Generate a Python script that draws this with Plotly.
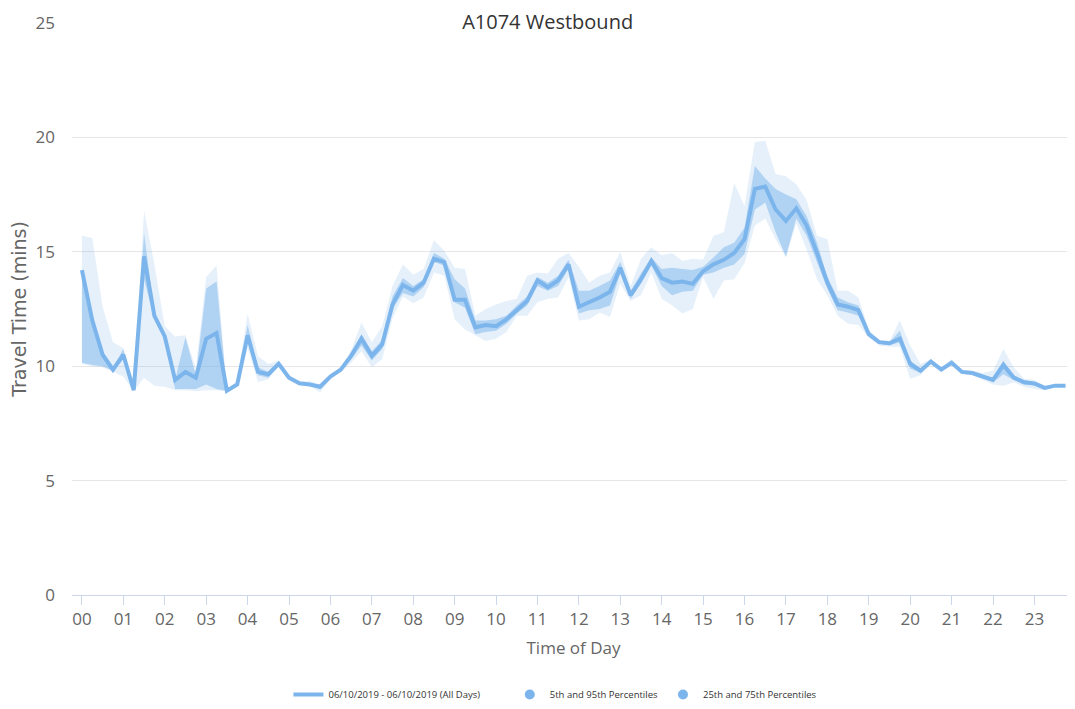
import plotly.graph_objects as go

hours = [i * 0.25 for i in range(96)]
tick_labels = ["%02d" % h for h in range(24)]

median = [14.2, 12.0, 10.5, 9.85, 10.5, 8.95, 14.8, 12.2, 11.3, 9.4, 9.75, 9.5, 11.2, 11.45, 8.93, 9.2,
          11.35, 9.75, 9.65, 10.1, 9.5, 9.25, 9.2, 9.1, 9.55, 9.85, 10.45, 11.2, 10.45, 10.95, 12.7, 13.55,
          13.3, 13.65, 14.7, 14.55, 12.9, 12.9, 11.7, 11.8, 11.75, 12.05, 12.45, 12.85, 13.75, 13.45, 13.75, 14.45,
          12.6, 12.8, 13.0, 13.25, 14.3, 13.1, 13.8, 14.6, 13.85, 13.65, 13.7, 13.6, 14.15, 14.45, 14.65, 14.95,
          15.55, 17.75, 17.85, 16.85, 16.35, 16.9, 16.15, 14.95, 13.65, 12.7, 12.6, 12.45, 11.4, 11.05, 11.0, 11.2,
          10.1, 9.8, 10.2, 9.85, 10.15, 9.75, 9.7, 9.55, 9.4, 10.05, 9.5, 9.3, 9.25, 9.05, 9.15, 9.15]
p5 = [10.1, 10.0, 9.95, 9.75, 9.55, 8.9, 9.5, 9.15, 9.1, 8.95, 8.95, 8.9, 8.95, 8.95, 8.9, 9.15,
      10.8, 9.3, 9.43, 10.0, 9.4, 9.18, 9.15, 8.85, 9.45, 9.72, 10.15, 10.65, 9.95, 10.3, 12.1, 13.05,
      12.75, 13.0, 14.1, 13.95, 12.05, 11.6, 11.35, 11.1, 11.2, 11.5, 12.2, 12.2, 12.8, 12.95, 13.0, 13.9,
      12.0, 12.05, 12.35, 12.15, 13.6, 12.85, 13.1, 14.1, 12.95, 12.65, 12.3, 12.5, 13.9, 12.95, 13.75, 13.8,
      14.5, 16.15, 16.45, 15.55, 14.75, 16.25, 15.1, 13.8, 13.1, 12.2, 11.85, 11.8, 11.25, 10.9, 10.85, 10.85,
      9.45, 9.6, 10.1, 9.75, 10.05, 9.65, 9.6, 9.4, 9.2, 9.15, 9.3, 9.1, 9.0, 8.95, 9.1, 9.1]
p25 = [10.15, 10.05, 10.0, 9.8, 10.3, 8.92, 13.8, 12.05, 11.2, 9.0, 9.0, 9.0, 9.2, 9.0, 8.92, 9.18,
       11.1, 9.6, 9.5, 10.05, 9.45, 9.2, 9.17, 9.0, 9.5, 9.8, 10.3, 10.9, 10.25, 10.75, 12.5, 13.2,
       13.05, 13.45, 14.55, 14.4, 12.8, 12.55, 11.4, 11.5, 11.55, 11.85, 12.3, 12.65, 13.5, 13.3, 13.5, 14.25,
       12.3, 12.45, 12.5, 12.65, 14.05, 12.95, 13.6, 14.4, 13.5, 13.1, 13.25, 13.3, 14.0, 14.1, 14.3, 14.45,
       14.9, 16.85, 17.15, 15.85, 14.8, 16.45, 15.7, 14.55, 13.4, 12.45, 12.35, 12.2, 11.35, 10.98, 10.92, 11.05,
       9.9, 9.7, 10.15, 9.8, 10.1, 9.7, 9.65, 9.5, 9.3, 9.65, 9.4, 9.2, 9.15, 9.0, 9.12, 9.12]
p75 = [14.2, 12.0, 10.5, 9.9, 10.75, 8.97, 15.8, 12.35, 11.45, 9.4, 11.25, 9.6, 13.4, 13.7, 8.95, 9.25,
       11.8, 9.95, 9.75, 10.15, 9.55, 9.28, 9.25, 9.15, 9.6, 9.9, 10.55, 11.4, 10.65, 11.15, 13.05, 13.85,
       13.5, 13.8, 14.95, 14.7, 13.8, 13.4, 12.0, 12.0, 12.05, 12.2, 12.65, 13.05, 13.9, 13.65, 13.95, 14.65,
       13.3, 13.3, 13.5, 13.75, 14.55, 13.3, 14.05, 14.75, 14.25, 14.3, 14.25, 14.2, 14.35, 14.75, 15.2, 15.4,
       16.05, 18.75, 18.2, 17.75, 17.5, 17.3, 16.55, 15.4, 13.9, 13.0, 12.8, 12.65, 11.5, 11.1, 11.05, 11.55,
       10.25, 9.9, 10.25, 9.9, 10.2, 9.8, 9.75, 9.6, 9.5, 10.25, 9.6, 9.4, 9.3, 9.1, 9.18, 9.18]
p95 = [15.7, 15.6, 12.6, 11.05, 10.8, 9.0, 16.8, 14.45, 11.75, 11.3, 11.35, 9.9, 13.9, 14.4, 8.97, 9.35,
       12.3, 10.45, 10.1, 10.25, 9.6, 9.3, 9.35, 9.2, 9.65, 9.95, 10.7, 11.9, 11.05, 11.75, 13.5, 14.45,
       14.0, 14.25, 15.5, 15.05, 14.3, 14.25, 12.2, 12.5, 12.7, 12.85, 12.95, 13.95, 14.1, 14.05, 14.7, 14.95,
       14.35, 13.65, 13.95, 14.1, 15.0, 13.5, 14.7, 15.2, 14.85, 14.95, 14.6, 14.7, 14.65, 15.7, 15.85, 18.0,
       17.0, 19.8, 19.85, 18.4, 18.3, 17.95, 17.25, 15.7, 15.55, 13.3, 13.3, 13.0, 11.6, 11.15, 11.1, 12.0,
       10.9, 10.1, 10.3, 9.95, 10.3, 9.85, 9.8, 9.7, 9.8, 10.75, 9.95, 9.45, 9.4, 9.12, 9.2, 9.2]

series_names = ["06/10/2019 - 06/10/2019 (All Days)", "5th and 95th Percentiles", "25th and 75th Percentiles"]

base = "#7cb5ec"
pad = "\u00a0" * 10
fig = go.Figure()
fig.add_trace(go.Scatter(x=hours, y=p5, mode="lines", line=dict(width=0), showlegend=False, hoverinfo="skip"))
fig.add_trace(go.Scatter(x=hours, y=p95, mode="lines", line=dict(width=0), fill="tonexty",
                         fillcolor="rgba(124,181,236,0.2)", showlegend=False, hoverinfo="skip"))
fig.add_trace(go.Scatter(x=hours, y=p25, mode="lines", line=dict(width=0), showlegend=False, hoverinfo="skip"))
fig.add_trace(go.Scatter(x=hours, y=p75, mode="lines", line=dict(width=0), fill="tonexty",
                         fillcolor="rgba(124,181,236,0.5)", showlegend=False, hoverinfo="skip"))
fig.add_trace(go.Scatter(x=hours, y=median, mode="lines", line=dict(color=base, width=4),
                         name=series_names[0] + pad))
fig.add_trace(go.Scatter(x=[None], y=[None], mode="markers", marker=dict(color=base, size=10, symbol="circle"),
                         name=series_names[1]))
fig.add_trace(go.Scatter(x=[None], y=[None], mode="markers", marker=dict(color=base, size=10, symbol="circle"),
                         name=series_names[2]))

fig.update_layout(
    width=1075, height=709,
    margin=dict(l=64, r=8, t=15, b=120),
    paper_bgcolor="white", plot_bgcolor="white",
    font=dict(family="Open Sans, sans-serif", color="#666666"),
    title=dict(text="A1074 Westbound", x=0.502, xanchor="center", y=0.980, yanchor="middle",
               xref="container", yref="container",
               font=dict(size=20, color="#333333")),
    xaxis=dict(range=[-0.24, 23.98], tickmode="array", tickvals=list(range(24)), ticktext=tick_labels,
               showgrid=False, zeroline=False, showline=True, linecolor="#ccd6eb", linewidth=1,
               ticks="outside", ticklen=9, tickcolor="#ccd6eb", tickfont=dict(size=17, color="#666666"),
               automargin=False,
               title=dict(text="Time of Day", font=dict(size=17, color="#666666"), standoff=12)),
    yaxis=dict(range=[0, 25], tickvals=[0, 5, 10, 15, 20, 25], showgrid=True, gridcolor="#e6e6e6",
               zeroline=False, showline=False, ticks="", tickfont=dict(size=17, color="#666666"),
               ticklabelstandoff=16, automargin=False,
               title=dict(text="Travel Time (mins)", font=dict(family="DejaVu Sans, sans-serif", size=19,
                                                               color="#666666"), standoff=10)),
    legend=dict(orientation="h", x=0.482, xanchor="center", y=-0.174, yanchor="middle",
                traceorder="normal", font=dict(size=9.5, color="#333333"), itemwidth=30),
    showlegend=True,
)

fig.write_html("out.html")
